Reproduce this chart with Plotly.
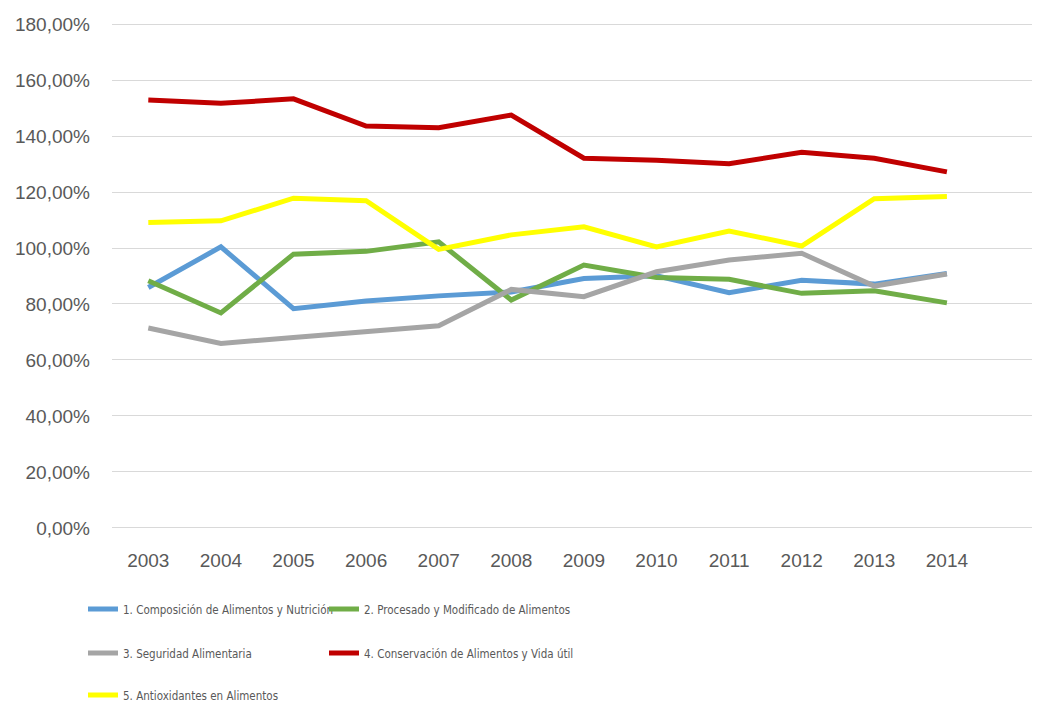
import plotly.graph_objects as go

years = [2003, 2004, 2005, 2006, 2007, 2008, 2009, 2010, 2011, 2012, 2013, 2014]

names = [
    "1. Composición de Alimentos y Nutrición",
    "2. Procesado y Modificado de Alimentos",
    "3. Seguridad Alimentaria",
    "4. Conservación de Alimentos y Vida útil",
    "5. Antioxidantes en Alimentos",
]

composicion = [85.9, 100.4, 78.3, 81.1, 82.9, 84.3, 89.1, 90.1, 84.0, 88.5, 87.1, 90.9]
procesado = [88.3, 76.8, 97.8, 98.8, 102.2, 81.4, 93.9, 89.5, 88.8, 83.8, 84.7, 80.4]
seguridad = [71.4, 65.9, 68.0, 70.1, 72.2, 85.2, 82.6, 91.5, 95.7, 98.1, 86.4, 90.7]
conservacion = [152.9, 151.7, 153.3, 143.6, 143.0, 147.5, 132.1, 131.4, 130.1, 134.2, 132.1, 127.2]
antioxidantes = [109.1, 109.7, 117.8, 116.9, 99.5, 104.7, 107.6, 100.4, 106.1, 100.7, 117.6, 118.4]

series = [composicion, procesado, seguridad, conservacion, antioxidantes]
colors = ["#5B9BD5", "#70AD47", "#A5A5A5", "#C00000", "#FFFF00"]

y_ticks = [0, 20, 40, 60, 80, 100, 120, 140, 160, 180]
y_ticktext = [f"{v:.2f}".replace(".", ",") + "%" for v in y_ticks]

W, H = 1032, 697
leg_ids = ["legend", "legend2", "legend3", "legend4", "legend5"]
leg_pos = [(75, 601), (316, 601), (75, 645), (316, 645), (75, 687)]

fig = go.Figure()
for name, vals, col, lg in zip(names, series, colors, leg_ids):
    fig.add_trace(go.Scatter(
        x=years, y=vals, name=name, mode="lines",
        line=dict(color=col, width=5),
        legend=lg,
    ))

tick_font = dict(family="Liberation Sans, Arial, sans-serif", size=19, color="#595959")
leg_font = dict(family="Liberation Sans Narrow, DejaVu Sans Condensed, Arial Narrow, sans-serif",
                size=11.5, color="#595959")

legend_layout = {}
for lg, (px, py) in zip(leg_ids, leg_pos):
    legend_layout[lg] = dict(
        orientation="h", xref="container", yref="container",
        x=px / W, y=1 - py / H, xanchor="left", yanchor="middle",
        font=leg_font, bgcolor="rgba(0,0,0,0)",
    )

fig.update_layout(
    width=W, height=H,
    margin=dict(l=104, r=0, t=15, b=176, autoexpand=False),
    paper_bgcolor="white", plot_bgcolor="white",
    showlegend=True,
    **legend_layout,
    xaxis=dict(
        range=[2002.5, 2002.5 + 928 / 72.6],
        tickmode="array", tickvals=years, ticktext=[str(y) for y in years],
        showgrid=False, zeroline=False, showline=False, automargin=False,
        tickfont=tick_font, ticks="", ticklabelstandoff=18,
    ),
    yaxis=dict(
        range=[-0.4, 180.4],
        tickmode="array", tickvals=y_ticks, ticktext=y_ticktext,
        showgrid=True, gridcolor="#D9D9D9", gridwidth=1.3,
        zeroline=False, showline=False, automargin=False,
        tickfont=tick_font, ticks="", ticklabelstandoff=21,
    ),
)

fig.write_html("out.html")
